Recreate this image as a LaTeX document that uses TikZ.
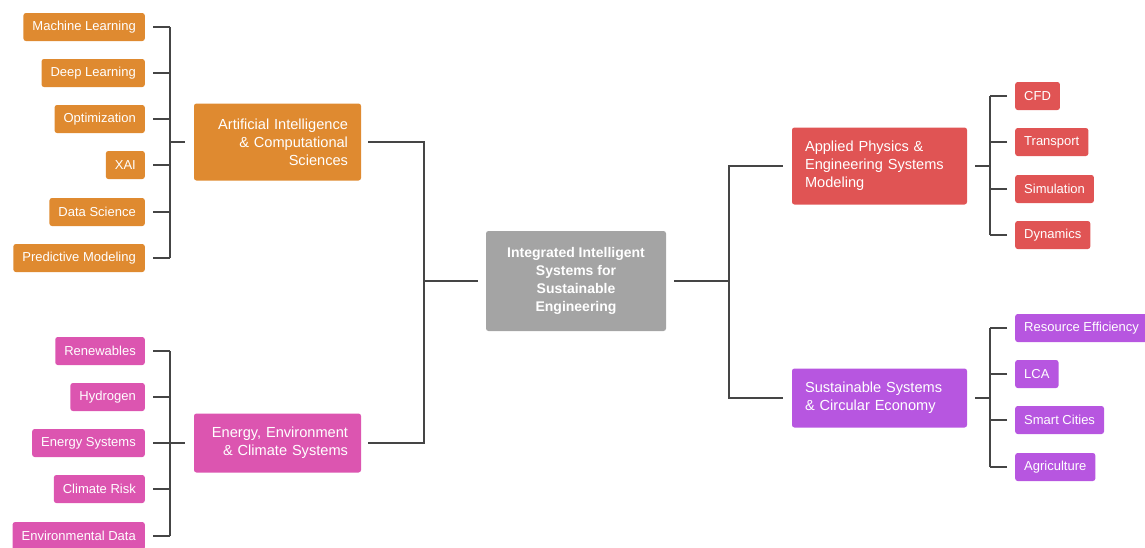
\documentclass[tikz,border=0pt]{standalone}
\usepackage{fontspec}
\setmainfont{Liberation Sans}
\hyphenpenalty=10000
\exhyphenpenalty=10000
\definecolor{cOrange}{HTML}{DF8A30}
\definecolor{cPink}{HTML}{DC55B0}
\definecolor{cRed}{HTML}{E05454}
\definecolor{cPurple}{HTML}{B756E0}
\definecolor{cGray}{HTML}{A4A4A4}
\definecolor{cLine}{HTML}{454545}
\tikzset{
  box/.style={rounded corners=2.5pt, text=white, inner ysep=0pt, minimum height=28pt},
  leafL/.style={box, anchor=east, inner xsep=9pt, font=\fontsize{13}{15}\selectfont},
  leafR/.style={box, anchor=west, inner xsep=9pt, font=\fontsize{13}{15}\selectfont},
  cat/.style={box, inner xsep=13pt, font=\fontsize{14.6}{18}\selectfont},
  conn/.style={draw=cLine, line width=2.6pt},
}
\begin{document}
\begin{tikzpicture}[x=1pt,y=-1pt]
\useasboundingbox (0,0) rectangle (1145,547);
% root
\node[box, fill=cGray, minimum width=180pt, minimum height=100pt, align=center,
  font=\fontsize{14}{18}\selectfont\bfseries] (root) at (576,281)
  {Integrated Intelligent\\Systems for\\Sustainable\\Engineering};
% categories
\node[cat, fill=cOrange, minimum width=167pt, minimum height=77pt, text width=141pt, align=right] (ai) at (277.5,142)
  {Artificial Intelligence\\\& Computational\\Sciences};
\node[cat, fill=cPink, minimum width=167pt, minimum height=59pt, text width=141pt, align=right] (en) at (277.5,443)
  {Energy, Environment\\\& Climate Systems};
\node[cat, fill=cRed, minimum width=175pt, minimum height=77pt, text width=149pt, align=left] (ap) at (879.5,166)
  {Applied Physics \&\\Engineering Systems\\Modeling};
\node[cat, fill=cPurple, minimum width=175pt, minimum height=59pt, text width=149pt, align=left] (ss) at (879.5,398)
  {Sustainable Systems\\\& Circular Economy};
% left top leaves
\node[leafL, fill=cOrange] (ml) at (145,27) {Machine Learning};
\node[leafL, fill=cOrange] (dl) at (145,73) {Deep Learning};
\node[leafL, fill=cOrange] (op) at (145,119) {Optimization};
\node[leafL, fill=cOrange] (xai) at (145,165) {XAI};
\node[leafL, fill=cOrange] (ds) at (145,212) {Data Science};
\node[leafL, fill=cOrange] (pm) at (145,258) {Predictive Modeling};
% left bottom leaves
\node[leafL, fill=cPink] (rn) at (145,351) {Renewables};
\node[leafL, fill=cPink] (hy) at (145,397) {Hydrogen};
\node[leafL, fill=cPink] (es) at (145,443) {Energy Systems};
\node[leafL, fill=cPink] (cr) at (145,489) {Climate Risk};
\node[leafL, fill=cPink] (ed) at (145,536) {Environmental Data};
% right top leaves
\node[leafR, fill=cRed] (cfd) at (1015,96) {CFD};
\node[leafR, fill=cRed] (tr) at (1015,142) {Transport};
\node[leafR, fill=cRed] (sim) at (1015,189) {Simulation};
\node[leafR, fill=cRed] (dyn) at (1015,235) {Dynamics};
% right bottom leaves
\node[leafR, fill=cPurple] (re) at (1015,328) {Resource Efficiency};
\node[leafR, fill=cPurple] (lca) at (1015,374) {LCA};
\node[leafR, fill=cPurple] (sc) at (1015,420) {Smart Cities};
\node[leafR, fill=cPurple] (ag) at (1015,467) {Agriculture};
% trunk connectors
\coordinate (bl) at (424,281);
\coordinate (br) at (729,281);
\draw[conn] ([xshift=7pt]ai.east) -| (bl) |- ([xshift=7pt]en.east);
\draw[conn] (bl) -- ([xshift=-8pt]root.west);
\draw[conn] ([xshift=8pt]root.east) -- (br);
\draw[conn] ([xshift=-9pt]ap.west) -| (br) |- ([xshift=-9pt]ss.west);
% left top bus
\draw[conn] ([xshift=25pt]ml.east) -- ([xshift=25pt]pm.east);
\foreach \n in {ml,dl,op,xai,ds,pm} \draw[conn] ([xshift=8pt]\n.east) -- ++(17,0);
\draw[conn] ([xshift=25pt]ml.east |- ai.west) -- ([xshift=-9pt]ai.west);
% left bottom bus
\draw[conn] ([xshift=25pt]rn.east) -- ([xshift=25pt]ed.east);
\foreach \n in {rn,hy,es,cr,ed} \draw[conn] ([xshift=8pt]\n.east) -- ++(17,0);
\draw[conn] ([xshift=25pt]rn.east |- en.west) -- ([xshift=-9pt]en.west);
% right top bus
\draw[conn] ([xshift=-25pt]cfd.west) -- ([xshift=-25pt]dyn.west);
\foreach \n in {cfd,tr,sim,dyn} \draw[conn] ([xshift=-8pt]\n.west) -- ++(-17,0);
\draw[conn] ([xshift=8pt]ap.east) -- ([xshift=-25pt]cfd.west |- ap.east);
% right bottom bus
\draw[conn] ([xshift=-25pt]re.west) -- ([xshift=-25pt]ag.west);
\foreach \n in {re,lca,sc,ag} \draw[conn] ([xshift=-8pt]\n.west) -- ++(-17,0);
\draw[conn] ([xshift=8pt]ss.east) -- ([xshift=-25pt]re.west |- ss.east);
\end{tikzpicture}
\end{document}
